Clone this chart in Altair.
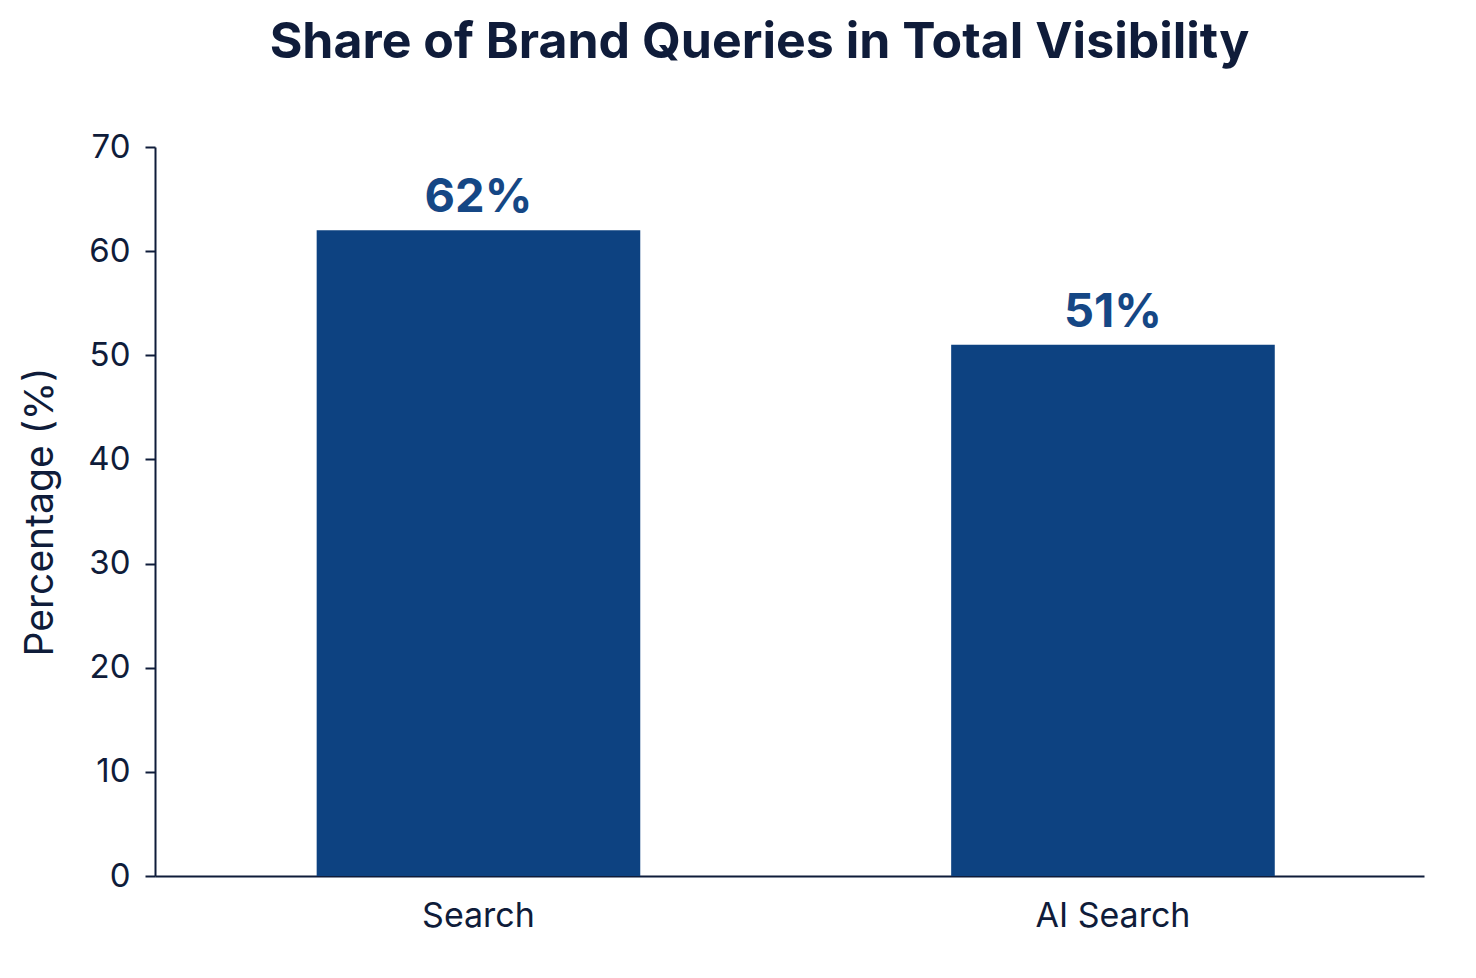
import pandas as pd
import altair as alt

categories = ['Search', 'AI Search']
shares = [62, 51]
labels = ['62%', '51%']

df = pd.DataFrame({'platform': categories, 'share': shares, 'label': labels})

ink = '#0f1c3a'

base = alt.Chart(df).encode(
    alt.X('platform:N', sort=categories,
          scale=alt.Scale(paddingInner=0.49, paddingOuter=0.245, align=0.52),
          axis=alt.Axis(title=None, labelAngle=0, ticks=False, labelPadding=23)),
)

bars = base.mark_bar(color='#0d4281').encode(
    alt.Y('share:Q', scale=alt.Scale(domain=[0, 70]),
          axis=alt.Axis(title='Percentage (%)', values=list(range(0, 71, 10)),
                        tickSize=10, labelPadding=15, titlePadding=27, grid=False))
)

text = base.mark_text(baseline='bottom', dy=-8, font='Inter', fontSize=47,
                      fontWeight='bold', color='#154785').encode(
    alt.Y('share:Q'),
    text='label:N'
)

chart = alt.layer(bars, text).properties(
    width=1269, height=729,
    title=alt.TitleParams('Share of Brand Queries in Total Visibility', fontSize=50,
                          font='Inter', fontWeight='bold', color=ink, offset=63, dx=-30),
    autosize=alt.AutoSizeParams(type='none'),
    padding={'left': 147, 'top': 139, 'right': 44, 'bottom': 90},
).configure_view(stroke=None).configure_axis(
    labelFont='Inter', labelFontSize=34, labelColor=ink,
    titleFont='Inter', titleFontSize=39, titleFontWeight='normal', titleColor=ink,
    domainColor=ink, domainWidth=2, tickColor=ink, tickWidth=2
).configure_axisY(labelFontSize=33)

chart.save("out.html", embed_options={"renderer": "svg", "actions": False})
